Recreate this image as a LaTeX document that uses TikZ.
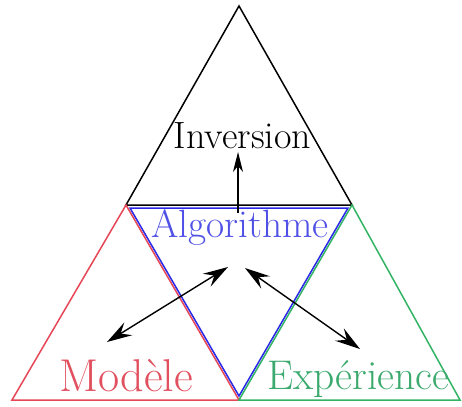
\documentclass[tikz,border=0pt]{standalone}
\usetikzlibrary{arrows.meta}
\definecolor{cred}{RGB}{230,70,85}
\definecolor{cgreen}{RGB}{50,180,100}
\definecolor{cblue}{RGB}{40,40,230}
\definecolor{tblue}{RGB}{80,80,230}
\definecolor{tred}{RGB}{225,80,95}
\definecolor{tgreen}{RGB}{60,170,110}
\begin{document}
\begin{tikzpicture}[x=1pt,y=-1pt,
  tri/.style={line width=1.5pt,line join=miter},
  lbl/.style={inner sep=0pt,anchor=base},
  tip/.tip={Stealth[length=25pt,width=15pt,inset=9pt]},
  arr/.style={line width=1.4pt,tip-tip},
  uarr/.style={line width=1.2pt,-{Stealth[length=20pt,width=10pt,inset=6pt]}}]
\useasboundingbox (0,0) rectangle (462,406);
% triangles
\draw[tri,black] (126,205) -- (239,6) -- (352,205) -- cycle;
\draw[tri,cred] (126,205) -- (12,400) -- (239,400) -- cycle;
\draw[tri,cgreen] (352,205) -- (239,400) -- (460,400) -- cycle;
\draw[tri,cblue] (130,208) -- (348,208) -- (239,396) -- cycle;
% labels
\node[lbl] (inv) at (242.5,148) {\fontsize{38}{42}\selectfont Inversion};
\node[lbl,text=tblue] (alg) at (240,237) {\fontsize{39.4}{44}\selectfont Algorithme};
\node[lbl,text=tred] (mod) at (126,391) {\fontsize{46}{50}\selectfont Modèle};
\node[lbl,text=tgreen] (exp) at (358.5,389) {\fontsize{41.5}{46}\selectfont Expérience};
% arrows
\coordinate (algtop) at (238,213);
\coordinate (invbot) at (238,152);
\draw[uarr] (algtop) -- (invbot);
\coordinate (lu) at (228,267);
\coordinate (ld) at (107,342);
\coordinate (ru) at (245,268);
\coordinate (rd) at (360,349);
\draw[arr] (ld) -- (lu);
\draw[arr] (ru) -- (rd);
\end{tikzpicture}
\end{document}
